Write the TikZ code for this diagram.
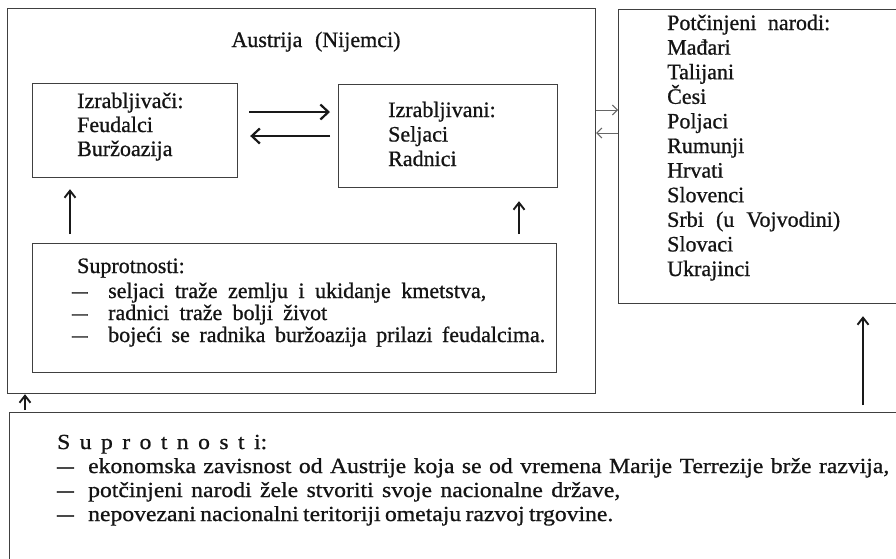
\documentclass[tikz,border=0pt]{standalone}
\usepackage{fontspec}
\usepackage{graphicx}
\setmainfont{Liberation Serif}
\newfontfamily\upfont[RawFeature={embolden=0.8}]{Liberation Serif}
\newfontfamily\botfont[FakeStretch=1.1,RawFeature={embolden=0.8}]{Liberation Serif}
\usetikzlibrary{arrows.meta}
\newcommand{\dsh}[1]{\makebox[#1][l]{\scalebox{1.4}[1]{–}}}
\newcommand{\fitw}[2]{\makebox[#1][s]{#2}}
\begin{document}
\begin{tikzpicture}[x=1pt,y=-1pt,
  frame/.style={draw=black!75, line width=1.2pt, inner sep=0pt, anchor=north west},
  txt/.style={anchor=base west, inner sep=0pt, font=\upfont\fontsize{22}{24}\selectfont, text=black!92},
  btxt/.style={anchor=base west, inner sep=0pt, font=\botfont\fontsize{21.5}{24}\selectfont, text=black!92},
  bigarrow/.style={draw=black!90, line width=2.2pt, -{Straight Barb[length=8pt,width=15pt,line width=2.2pt]}},
  uparrow/.style={draw=black!90, line width=1.5pt, -{Straight Barb[length=7pt,width=11pt,line width=1.9pt]}},
  smallarrow/.style={draw=black!60, line width=1pt, -{Straight Barb[length=5pt,width=10pt]}}]
\clip (0,0) rectangle (896,558);
\fill[white] (0,0) rectangle (896,558);
% boxes
\node[frame, minimum width=588pt, minimum height=385pt] (aus) at (7,8) {};
\node[frame, minimum width=205pt, minimum height=94pt] (izr) at (32,83) {};
\node[frame, minimum width=219pt, minimum height=103pt] (izd) at (338,84) {};
\node[frame, minimum width=524pt, minimum height=129pt] (supr) at (32,243) {};
\node[frame, minimum width=300pt, minimum height=294pt] (rb) at (618,9) {};
\node[frame, minimum width=900pt, minimum height=200pt] (bot) at (9,412) {};
% texts
\node[txt, anchor=base] (title) at (316,47) {\fitw{169pt}{Austrija (Nijemci)}};
\node[txt] (l1) at (77,108) {Izrabljivači:};
\node[txt] (l2) at (77,132) {Feudalci};
\node[txt] (l3) at (77,156) {Buržoazija};
\node[txt] (r1) at (388,117) {Izrabljivani:};
\node[txt] (r2) at (388,141.5) {Seljaci};
\node[txt] (r3) at (388,166) {Radnici};
\node[txt] (s0) at (77,273) {Suprotnosti:};
\node[txt] (s1) at (72,298) {\fitw{414pt}{\dsh{36pt}seljaci traže zemlju i ukidanje kmetstva,}};
\node[txt] (s2) at (72,320) {\fitw{255pt}{\dsh{36pt}radnici traže bolji život}};
\node[txt] (s3) at (72,342) {\fitw{473pt}{\dsh{36pt}bojeći se radnika buržoazija prilazi feudalcima.}};
\node[txt] (n0) at (667,30) {\fitw{163pt}{Potčinjeni narodi:}};
\foreach \t [count=\i from 1] in {Mađari, Talijani, Česi, Poljaci, Rumunji, Hrvati, Slovenci}
  \node[txt] (n\i) at (667,30+24.6*\i) {\t};
\node[txt] (n8) at (667,30+24.6*8) {\fitw{173pt}{Srbi (u Vojvodini)}};
\node[txt] (n9) at (667,30+24.6*9) {Slovaci};
\node[txt] (n10) at (667,30+24.6*10) {Ukrajinci};
\node[btxt] (b0) at (57,449) {\fitw{210pt}{S u p r o t n o s t i:}};
\node[btxt] (b1) at (57,473) {\fitw{832pt}{\dsh{31pt}ekonomska zavisnost od Austrije koja se od vremena Marije Terrezije brže razvija,}};
\node[btxt] (b2) at (57,497) {\fitw{563pt}{\dsh{31pt}potčinjeni narodi žele stvoriti svoje nacionalne države,}};
\node[btxt] (b3) at (57,521) {\fitw{556pt}{\dsh{31pt}nepovezani nacionalni teritoriji ometaju razvoj trgovine.}};
% arrows
\draw[bigarrow] ([xshift=11pt]izr.east |- 0,112) -- ([xshift=-8pt]izd.west |- 0,112);
\draw[bigarrow] ([xshift=-8pt]izd.west |- 0,136) -- ([xshift=12pt]izr.east |- 0,136);
\draw[uparrow] ([yshift=9pt]supr.north west -| 70,0) -- ([yshift=-11pt]izr.south west -| 70,0);
\draw[uparrow] ([yshift=9pt]supr.north east -| 519,0) -- ([yshift=-13pt]izd.south east -| 519,0);
\draw[smallarrow] (aus.east |- 0,110) -- (rb.west |- 0,110);
\draw[smallarrow] (rb.west |- 0,133) -- (aus.east |- 0,133);
\draw[uparrow] ([yshift=7pt]bot.north west -| 863,0) -- ([yshift=-12pt]rb.south west -| 863,0);
\draw[uparrow] ([yshift=2pt]bot.north west -| 25,0) -- (aus.south west -| 25,0);
\end{tikzpicture}
\end{document}
